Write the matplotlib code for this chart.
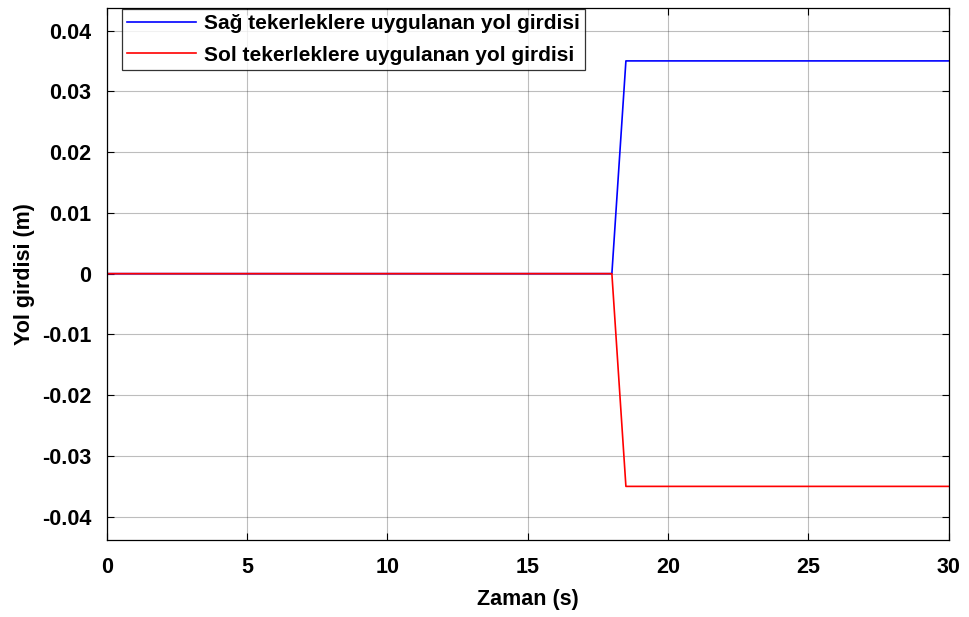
import matplotlib
matplotlib.use("Agg")
import matplotlib.pyplot as plt
import numpy as np

# time points and road input (m)
t = [0, 18, 18.5, 30]
sag = [0, 0, 0.035, 0.035]
sol = [0, 0, -0.035, -0.035]

xticks = [0, 5, 10, 15, 20, 25, 30]
yticks = [-0.04, -0.03, -0.02, -0.01, 0, 0.01, 0.02, 0.03, 0.04]
ylabels = ['-0.04', '-0.03', '-0.02', '-0.01', '0', '0.01', '0.02', '0.03', '0.04']

plt.rcParams['font.family'] = ['Liberation Sans', 'DejaVu Sans']

fig = plt.figure(figsize=(9.7, 6.17), dpi=100)
ax = fig.add_axes([0.110, 0.125, 0.868, 0.862])

ax.plot(t, sag, color='#0000ff', lw=1.2, label='Sağ tekerleklere uygulanan yol girdisi')
ax.plot(t, sol, color='#ff0000', lw=1.2, label='Sol tekerleklere uygulanan yol girdisi')

ax.set_xlim(0, 30)
ax.set_ylim(-0.0438, 0.0437)
ax.set_xticks(xticks)
ax.set_yticks(yticks)
ax.set_yticklabels(ylabels)
ax.grid(True, color='#262626', alpha=0.3, lw=0.8)
ax.tick_params(axis='both', direction='in', top=True, right=True, length=5, width=0.8,
               labelsize=15.5)
ax.tick_params(axis='y', pad=11)
ax.tick_params(axis='x', pad=12)
for lab in ax.get_xticklabels() + ax.get_yticklabels():
    lab.set_fontweight('bold')
for s in ax.spines.values():
    s.set_linewidth(0.9)

ax.set_xlabel('Zaman (s)', fontsize=15.5, fontweight='bold', labelpad=8)
ax.set_ylabel('Yol girdisi (m)', fontsize=15.5, fontweight='bold', labelpad=5)

leg = ax.legend(loc='upper left', bbox_to_anchor=(0.017, 1.0), fontsize=15,
                frameon=True, fancybox=False, edgecolor='black',
                handlelength=3.3, borderpad=0.25, labelspacing=0.6,
                borderaxespad=0.05, handletextpad=0.4)
leg.get_frame().set_linewidth(0.9)
for txt in leg.get_texts():
    txt.set_fontweight('semibold')

fig.savefig('out.png', dpi=100)
